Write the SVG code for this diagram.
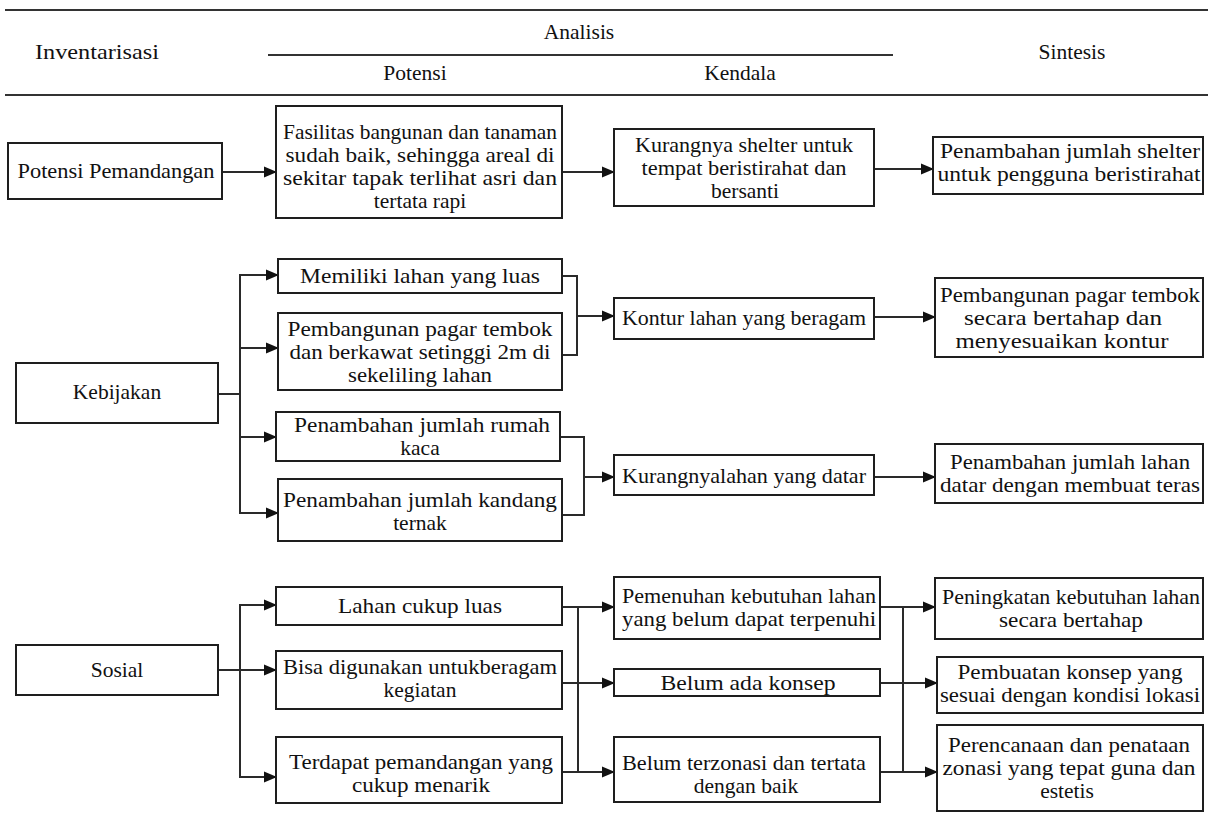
<svg xmlns="http://www.w3.org/2000/svg" width="1208" height="829" viewBox="0 0 1208 829">
<defs>
<marker id="ah" markerWidth="13" markerHeight="12" refX="12" refY="6" orient="auto" markerUnits="userSpaceOnUse">
<path d="M0,0.5 L13,6 L0,11.5 Z" fill="#111"/>
</marker>
<style>
text{font-family:'Liberation Serif','DejaVu Serif',serif;font-size:21.5px;fill:#111;text-anchor:middle}
.box{fill:#fff;stroke:#1e1e1e;stroke-width:2}
.hl{stroke:#333;stroke-width:2;fill:none}
.c{stroke:#2a2a2a;stroke-width:2;fill:none}
.a{stroke:#2a2a2a;stroke-width:2;fill:none;marker-end:url(#ah)}
</style>
</defs>
<rect width="1208" height="829" fill="#fff"/>
<g id="header">
<line class="hl" x1="5" y1="10" x2="1208" y2="10"/>
<line class="hl" x1="268" y1="55" x2="893" y2="55"/>
<line class="hl" x1="5" y1="95" x2="1208" y2="95"/>
<text x="579" y="39">Analisis</text>
<text x="97" y="59" textLength="124" lengthAdjust="spacingAndGlyphs">Inventarisasi</text>
<text x="415" y="80">Potensi</text>
<text x="740" y="80">Kendala</text>
<text x="1072" y="59">Sintesis</text>
</g>
<g id="connectors">
<line class="a" x1="222" y1="172" x2="276" y2="172"/>
<line class="a" x1="562" y1="172" x2="614" y2="172"/>
<line class="a" x1="874" y1="169" x2="933" y2="169"/>
<line class="c" x1="218" y1="394" x2="240" y2="394"/>
<line class="c" x1="240" y1="274" x2="240" y2="514"/>
<line class="a" x1="239" y1="275" x2="278" y2="275"/>
<line class="a" x1="239" y1="348" x2="278" y2="348"/>
<line class="a" x1="239" y1="437" x2="276" y2="437"/>
<line class="a" x1="239" y1="513" x2="278" y2="513"/>
<polyline class="c" points="562,276 577,276 577,355 562,355"/>
<line class="a" x1="577" y1="316" x2="614" y2="316"/>
<line class="a" x1="874" y1="317" x2="935" y2="317"/>
<polyline class="c" points="560,437 584,437 584,515 562,515"/>
<line class="a" x1="584" y1="477" x2="614" y2="477"/>
<line class="a" x1="874" y1="477" x2="935" y2="477"/>
<line class="a" x1="218" y1="670" x2="276" y2="670"/>
<line class="c" x1="240" y1="604" x2="240" y2="778"/>
<line class="a" x1="239" y1="605" x2="276" y2="605"/>
<line class="a" x1="239" y1="777" x2="276" y2="777"/>
<line class="c" x1="578" y1="607" x2="578" y2="772"/>
<line class="a" x1="562" y1="607" x2="614" y2="607"/>
<line class="a" x1="562" y1="683" x2="614" y2="683"/>
<line class="a" x1="562" y1="772" x2="614" y2="772"/>
<line class="c" x1="903" y1="607" x2="903" y2="772"/>
<line class="a" x1="880" y1="607" x2="935" y2="607"/>
<line class="a" x1="880" y1="683" x2="937" y2="683"/>
<line class="a" x1="880" y1="772" x2="937" y2="772"/>
</g>
<g id="inv-potensi-pemandangan"><rect class="box" x="8" y="143" width="214" height="56"/><text x="116" y="178" textLength="197" lengthAdjust="spacingAndGlyphs">Potensi Pemandangan</text></g>
<g id="pot-fasilitas"><rect class="box" x="276" y="106" width="286" height="112"/>
<text x="420" y="139" textLength="274" lengthAdjust="spacingAndGlyphs">Fasilitas bangunan dan tanaman</text><text x="420" y="162" textLength="269" lengthAdjust="spacingAndGlyphs">sudah baik, sehingga areal di</text><text x="420" y="185" textLength="274" lengthAdjust="spacingAndGlyphs">sekitar tapak terlihat asri dan</text><text x="420" y="208">tertata rapi</text></g>
<g id="ken-shelter"><rect class="box" x="614" y="129" width="260" height="77"/>
<text x="744" y="152" textLength="218" lengthAdjust="spacingAndGlyphs">Kurangnya shelter untuk</text><text x="744" y="175" textLength="205" lengthAdjust="spacingAndGlyphs">tempat beristirahat dan</text><text x="745" y="198">bersanti</text></g>
<g id="sin-shelter"><rect class="box" x="933" y="137" width="270" height="57"/>
<text x="1070" y="158" textLength="260" lengthAdjust="spacingAndGlyphs">Penambahan jumlah shelter</text><text x="1069" y="181" textLength="263" lengthAdjust="spacingAndGlyphs">untuk pengguna beristirahat</text></g>

<g id="inv-kebijakan"><rect class="box" x="16" y="363" width="202" height="60"/><text x="117" y="399">Kebijakan</text></g>
<g id="pot-lahan-luas"><rect class="box" x="278" y="259" width="284" height="34"/><text x="420" y="283" textLength="240" lengthAdjust="spacingAndGlyphs">Memiliki lahan yang luas</text></g>
<g id="pot-pagar"><rect class="box" x="278" y="313" width="284" height="77"/>
<text x="420" y="336" textLength="265" lengthAdjust="spacingAndGlyphs">Pembangunan pagar tembok</text><text x="420" y="359" textLength="261" lengthAdjust="spacingAndGlyphs">dan berkawat setinggi 2m di</text><text x="420" y="382" textLength="144" lengthAdjust="spacingAndGlyphs">sekeliling lahan</text></g>
<g id="pot-rumah-kaca"><rect class="box" x="276" y="412" width="284" height="49"/>
<text x="422" y="432" textLength="256" lengthAdjust="spacingAndGlyphs">Penambahan jumlah rumah</text><text x="420" y="455">kaca</text></g>
<g id="pot-kandang"><rect class="box" x="278" y="479" width="284" height="62"/>
<text x="420" y="507" textLength="274" lengthAdjust="spacingAndGlyphs">Penambahan jumlah kandang</text><text x="420" y="530">ternak</text></g>
<g id="ken-kontur"><rect class="box" x="614" y="298" width="260" height="41"/><text x="744" y="325" textLength="244" lengthAdjust="spacingAndGlyphs">Kontur lahan yang beragam</text></g>
<g id="sin-pagar"><rect class="box" x="935" y="278" width="268" height="79"/>
<text x="1070" y="302" textLength="260" lengthAdjust="spacingAndGlyphs">Pembangunan pagar tembok</text><text x="1063" y="325" textLength="198" lengthAdjust="spacingAndGlyphs">secara bertahap dan</text><text x="1062" y="348" textLength="213" lengthAdjust="spacingAndGlyphs">menyesuaikan kontur</text></g>
<g id="ken-datar"><rect class="box" x="614" y="455" width="260" height="40"/><text x="744" y="483" textLength="244" lengthAdjust="spacingAndGlyphs">Kurangnyalahan yang datar</text></g>
<g id="sin-teras"><rect class="box" x="935" y="444" width="268" height="59"/>
<text x="1070" y="469" textLength="240" lengthAdjust="spacingAndGlyphs">Penambahan jumlah lahan</text><text x="1070" y="492" textLength="260" lengthAdjust="spacingAndGlyphs">datar dengan membuat teras</text></g>

<g id="inv-sosial"><rect class="box" x="16" y="645" width="202" height="50"/><text x="117" y="677">Sosial</text></g>
<g id="pot-cukup-luas"><rect class="box" x="276" y="587" width="286" height="38"/><text x="420" y="613" textLength="164" lengthAdjust="spacingAndGlyphs">Lahan cukup luas</text></g>
<g id="pot-beragam"><rect class="box" x="276" y="651" width="286" height="58"/>
<text x="420" y="674" textLength="274" lengthAdjust="spacingAndGlyphs">Bisa digunakan untukberagam</text><text x="420" y="697">kegiatan</text></g>
<g id="pot-pemandangan"><rect class="box" x="276" y="737" width="286" height="66"/>
<text x="421" y="769" textLength="264" lengthAdjust="spacingAndGlyphs">Terdapat pemandangan yang</text><text x="421" y="792" textLength="138" lengthAdjust="spacingAndGlyphs">cukup menarik</text></g>
<g id="ken-kebutuhan"><rect class="box" x="614" y="577" width="266" height="62"/>
<text x="749" y="603" textLength="254" lengthAdjust="spacingAndGlyphs">Pemenuhan kebutuhan lahan</text><text x="749" y="626" textLength="254" lengthAdjust="spacingAndGlyphs">yang belum dapat terpenuhi</text></g>
<g id="ken-konsep"><rect class="box" x="614" y="669" width="266" height="27"/><text x="748" y="690" textLength="175" lengthAdjust="spacingAndGlyphs">Belum ada konsep</text></g>
<g id="ken-zonasi"><rect class="box" x="614" y="737" width="266" height="65"/>
<text x="744" y="770" textLength="244" lengthAdjust="spacingAndGlyphs">Belum terzonasi dan tertata</text><text x="746" y="793">dengan baik</text></g>
<g id="sin-kebutuhan"><rect class="box" x="935" y="578" width="268" height="61"/>
<text x="1071" y="604" textLength="258" lengthAdjust="spacingAndGlyphs">Peningkatan kebutuhan lahan</text><text x="1071" y="627" textLength="144" lengthAdjust="spacingAndGlyphs">secara bertahap</text></g>
<g id="sin-konsep"><rect class="box" x="937" y="657" width="266" height="56"/>
<text x="1070" y="679" textLength="225" lengthAdjust="spacingAndGlyphs">Pembuatan konsep yang</text><text x="1070" y="702" textLength="260" lengthAdjust="spacingAndGlyphs">sesuai dengan kondisi lokasi</text></g>
<g id="sin-zonasi"><rect class="box" x="937" y="725" width="266" height="86"/>
<text x="1069" y="752" textLength="242" lengthAdjust="spacingAndGlyphs">Perencanaan dan penataan</text><text x="1069" y="775" textLength="253" lengthAdjust="spacingAndGlyphs">zonasi yang tepat guna dan</text><text x="1067" y="798">estetis</text></g>
</svg>
